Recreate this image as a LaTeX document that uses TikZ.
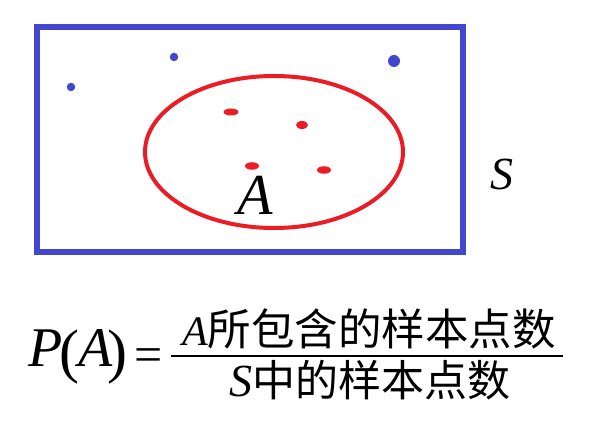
\documentclass[tikz,border=0pt]{standalone}
\usepackage{fontspec}
\usetikzlibrary{shapes.geometric}
\setmainfont{Liberation Serif}
\newfontfamily\cjk{Noto Sans CJK SC}
\definecolor{setblue}{RGB}{66,72,206}
\definecolor{setred}{RGB}{236,28,36}
\begin{document}
\begin{tikzpicture}[x=1pt,y=-1pt,
  txt/.style={inner sep=0pt, outer sep=0pt},
  bdot/.style={circle, fill=setblue, inner sep=0pt},
  rdot/.style={ellipse, fill=setred, inner sep=0pt, minimum width=14pt, minimum height=7.5pt},
  fs/.style={font=\fontsize{#1}{#1}\selectfont}]
\useasboundingbox (0,0) rectangle (595,430);
% sample space
\node[draw=setblue, line width=5.5pt, minimum width=426pt, minimum height=225pt, inner sep=0pt] (S) at (250,139.5) {};
% event A
\node[draw=setred, line width=4pt, ellipse, minimum width=258pt, minimum height=152pt, inner sep=0pt] (Aset) at (274,152) {};
% blue points
\node[bdot, minimum size=8.5pt] (b1) at (71,87) {};
\node[bdot, minimum size=8.5pt] (b2) at (174,57) {};
\node[bdot, minimum size=12pt] (b3) at (394,61) {};
% red points
\node[rdot, minimum width=15pt, minimum height=7pt] (r1) at (231,112) {};
\node[rdot, minimum width=12pt, minimum height=8pt] (r2) at (302,125) {};
\node[rdot] (r3) at (252,166) {};
\node[rdot] (r4) at (324,170) {};
% labels
\node[txt, fs=58, anchor=base] (lA) at (255,215) {\itshape A};
\node[txt, fs=46, anchor=base] (lS) at (501.5,190) {\itshape S};
% formula
\node[txt, fs=56, anchor=base] (P) at (46,367) {\itshape P};
\node[txt, fs=60] (lp) at (69,357) {(};
\node[txt, fs=56, anchor=base] (PA) at (96,367) {\itshape A};
\node[txt, fs=60] (rp) at (117.5,357) {)};
\node[txt, fs=50] (eq) at (148.5,360) {=};
\draw[line width=2pt] (171,356.5) -- (563,356.5);
\node[txt, anchor=base west] (num) at (182,346) {\fontsize{42}{42}\selectfont\itshape A\fontsize{43.5}{43.5}\selectfont\cjk\upshape 所包含的样本点数};
\node[txt, anchor=base west] (den) at (229,397) {\fontsize{46}{46}\selectfont\itshape S\fontsize{43}{43}\selectfont\cjk\upshape 中的样本点数};
\end{tikzpicture}
\end{document}
